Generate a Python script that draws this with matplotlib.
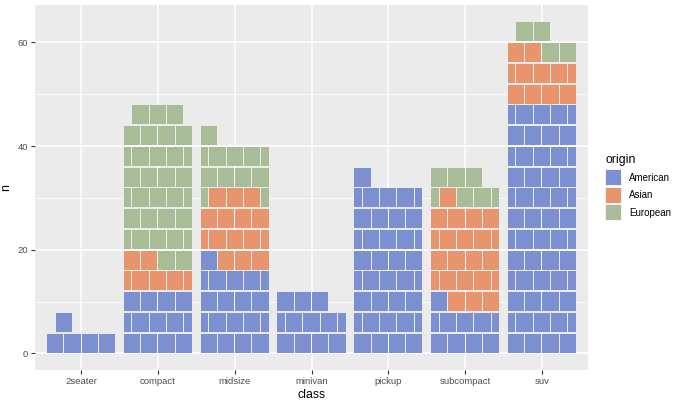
import matplotlib
matplotlib.use("Agg")
import matplotlib.pyplot as plt
from matplotlib.patches import Rectangle

plt.rcParams["font.family"] = ["Liberation Sans", "DejaVu Sans"]

# ── data: cars per class, split by origin ─────────────────────────────────────
classes  = ["2seater", "compact", "midsize", "minivan", "pickup", "subcompact", "suv"]
american = [5, 12, 17, 11, 33, 9, 48]
asian    = [0, 6, 14, 0, 0, 20, 10]
european = [0, 29, 10, 0, 0, 6, 4]

origins = ["American", "Asian", "European"]
colors  = {"American": "#7B8FD1", "Asian": "#E8956E", "European": "#A8BC98"}

PER_LAYER = 4      # bricks per layer
COL_W     = 0.9    # column width in category units
GAP_X     = 0.013
GAP_Y     = 0.35

W, H, DPI = 680, 404, 100
fig = plt.figure(figsize=(W / DPI, H / DPI), dpi=DPI)
ax = fig.add_axes([35 / W, 1 - 370 / H, (588 - 35) / W, (370 - 5) / H])
ax.set_facecolor("#EBEBEB")


def brick(ax, x0, x1, y0, y1, col):
    ax.add_patch(Rectangle((x0 + GAP_X / 2, y0 + GAP_Y / 2),
                           x1 - x0 - GAP_X, y1 - y0 - GAP_Y,
                           facecolor=col, edgecolor="none", zorder=3))


bw = COL_W / PER_LAYER
for i, cl in enumerate(classes):
    seq = (["American"] * american[i] + ["Asian"] * asian[i]
           + ["European"] * european[i])
    left = i + 1 - COL_W / 2
    for k, org in enumerate(seq):
        layer, pos = divmod(k, PER_LAYER)
        y0, y1 = layer * PER_LAYER, (layer + 1) * PER_LAYER
        c = colors[org]
        if layer % 2 == 0:
            brick(ax, left + pos * bw, left + (pos + 1) * bw, y0, y1, c)
        elif pos < PER_LAYER - 1:
            brick(ax, left + (pos + 0.5) * bw, left + (pos + 1.5) * bw, y0, y1, c)
        else:   # last brick of an offset layer wraps round
            brick(ax, left + (pos + 0.5) * bw, left + (pos + 1) * bw, y0, y1, c)
            brick(ax, left, left + 0.5 * bw, y0, y1, c)

ymax = max(a + b + c for a, b, c in zip(american, asian, european))
ytop = -(-ymax // PER_LAYER) * PER_LAYER
ax.set_xlim(0.4, len(classes) + 0.6)
ax.set_ylim(-0.05 * ytop, 1.05 * ytop)

ax.set_xticks(range(1, len(classes) + 1))
ax.set_xticklabels(classes)
ax.set_yticks([0, 20, 40, 60])
ax.set_yticks([10, 30, 50], minor=True)
ax.grid(which="major", color="white", linewidth=1.1, zorder=0)
ax.grid(which="minor", axis="y", color="white", linewidth=0.55, zorder=0)
ax.set_axisbelow(True)
for s in ax.spines.values():
    s.set_visible(False)
ax.tick_params(which="major", length=3, width=0.8, color="#333333",
               labelsize=6.8, labelcolor="#4D4D4D", pad=2)
ax.tick_params(which="minor", length=0)

ax.set_xlabel("class", fontsize=8.8, labelpad=2)
ax.set_ylabel("n", fontsize=8.8, labelpad=4)

# legend drawn by hand, ggplot style
fig.text(606 / W, 1 - 160 / H, "origin", fontsize=8.8, va="center", ha="left")
for j, org in enumerate(origins):
    ytop_px = 169 + j * 17.5
    fig.add_artist(Rectangle((605 / W, 1 - (ytop_px + 17) / H), 17 / W, 17 / H,
                             transform=fig.transFigure, facecolor="#F2F2F2",
                             edgecolor="none"))
    fig.add_artist(Rectangle((606 / W, 1 - (ytop_px + 16) / H), 15 / W, 15 / H,
                             transform=fig.transFigure, facecolor=colors[org],
                             edgecolor="none"))
    fig.text(629 / W, 1 - (ytop_px + 8.5) / H, org, fontsize=7,
             va="center", ha="left")

fig.savefig("out.png", dpi=DPI)
